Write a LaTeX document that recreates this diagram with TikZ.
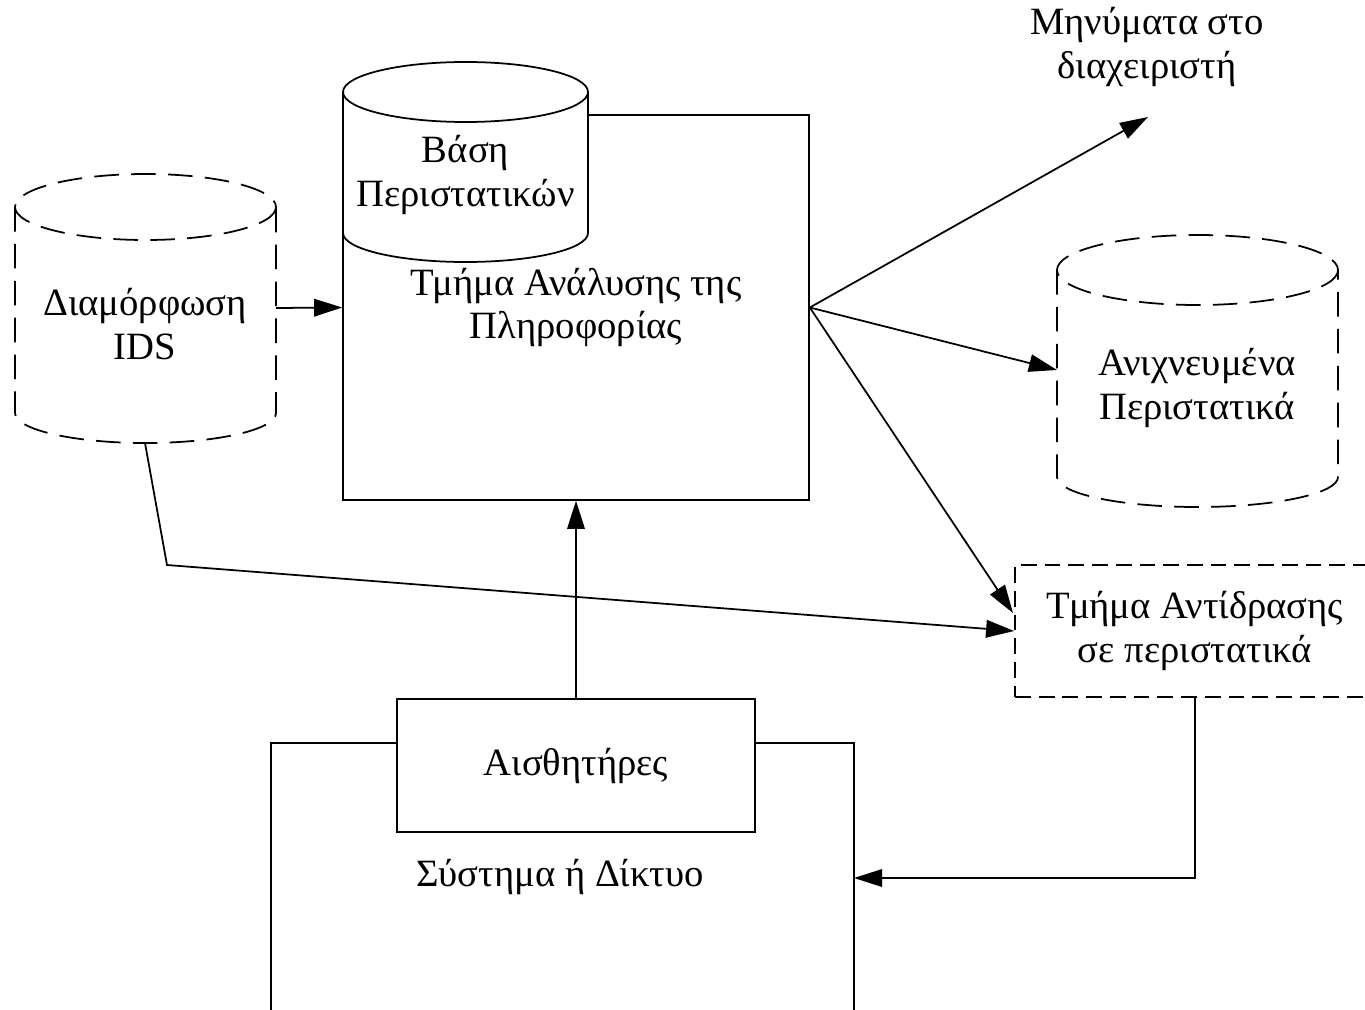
\documentclass[tikz,border=0pt]{standalone}
\usepackage{fontspec}
\setmainfont{Liberation Serif}
\usepackage{tikz}
\usetikzlibrary{arrows.meta,positioning,calc}

\begin{document}
\begin{tikzpicture}[x=0.02cm, y=-0.02cm, font=\fontsize{22}{25}\selectfont,
    box/.style={rectangle, draw, line width=1pt, fill=white, align=center, inner sep=0pt},
    dbox/.style={box, dash pattern=on 9pt off 4.5pt},
    dcyl/.style={line width=1pt, dash pattern=on 14pt off 7pt, fill=white},
    cyl/.style={line width=1pt, fill=white},
    txt/.style={align=center, inner sep=0pt},
    arrow/.style={-{Triangle[length=16pt, width=10pt]}, line width=1pt},
    line/.style={line width=1pt}]

    \useasboundingbox (0,0) rectangle (1365,1010);

    % Analysis part with incident base
    \node[box, minimum width=9.32cm, minimum height=7.7cm] (ana) at (576,307.5) {Τμήμα Ανάλυσης της\\Πληροφορίας};
    \draw[cyl] (343,92) -- (343,233) arc[start angle=180, end angle=0, x radius=122.5, y radius=29] -- (588,92);
    \draw[cyl] (465.5,92) ellipse [x radius=122.5, y radius=30];
    \node[txt] (base) at (465.5,175) {Βάση\\Περιστατικών};

    % IDS configuration
    \draw[dcyl] (15,207) -- (15,413) arc[start angle=180, end angle=0, x radius=130.5, y radius=30] -- (276,207);
    \draw[dcyl] (145.5,207) ellipse [x radius=130.5, y radius=33];
    \node[txt] (ids) at (145,324) {Διαμόρφωση\\IDS};
    \coordinate (ids-e) at (276,308);
    \coordinate (ids-s) at (145,443);
    \coordinate (ids-k) at (167,565);

    % Detected incidents
    \draw[dcyl] (1057,270) -- (1057,477) arc[start angle=180, end angle=0, x radius=140.5, y radius=30] -- (1338,270);
    \draw[dcyl] (1197.5,270) ellipse [x radius=140.5, y radius=35];
    \node[txt] (det) at (1197,388) {Ανιχνευμένα\\Περιστατικά};
    \coordinate (det-w) at (1057,370);

    % Messages
    \node[txt] (msg) at (1147,47) {Μηνύματα στο\\διαχειριστή};
    \coordinate (msg-s) at (1148,117);

    % Reaction part
    \node[dbox, minimum width=7.2cm, minimum height=2.64cm] (react) at (1195,631) {Τμήμα Αντίδρασης\\σε περιστατικά};
    \coordinate (react-a) at (1013,613);

    % System and sensors
    \draw[line] (271,1020) -- (271,743) -- (397,743);
    \draw[line] (755,743) -- (854,743) -- (854,1020);
    \node[box, minimum width=7.16cm, minimum height=2.66cm] (sens) at (576,765.5) {Αισθητήρες};
    \node[txt] (sys) at (560,877) {Σύστημα ή Δίκτυο};
    \coordinate (sys-e) at (854,878);

    % Arrows
    \draw[arrow] (ids-e) -- (ana.west);
    \draw[arrow] (ana.east) -- (msg-s);
    \draw[arrow] (ana.east) -- (det-w);
    \draw[arrow] (ana.east) -- (react-a);
    \draw[arrow] (ids-s) -- (ids-k) -- (react.west);
    \draw[arrow] (sens.north) -- (ana.south);
    \draw[arrow] (react.south) |- (sys-e);

\end{tikzpicture}
\end{document}
